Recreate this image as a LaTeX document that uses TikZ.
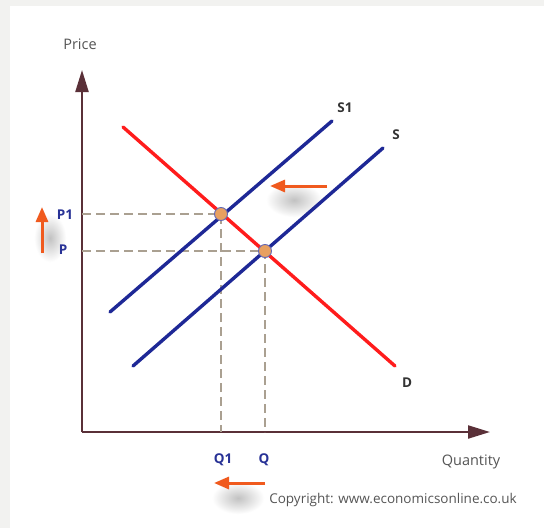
\documentclass[tikz,border=0pt]{standalone}
\usepackage{fontspec}
\setmainfont{Open Sans}
\usetikzlibrary{arrows.meta}

\definecolor{bggray}{RGB}{242,242,240}
\definecolor{axiscol}{RGB}{90,48,56}
\definecolor{demandred}{RGB}{255,28,28}
\definecolor{supplyblue}{RGB}{30,40,150}
\definecolor{guidecol}{RGB}{170,160,145}
\definecolor{dotfill}{RGB}{232,160,96}
\definecolor{shiftorange}{RGB}{240,90,30}
\definecolor{labelblue}{RGB}{40,50,150}
\definecolor{textgray}{RGB}{85,85,85}

\tikzset{
  axis/.style={axiscol, line width=2.2pt, -{Triangle[length=22pt,width=13pt]}},
  curve/.style={line width=3.4pt, line cap=round},
  guide/.style={guidecol, line width=1.3pt, dash pattern=on 9pt off 5pt},
  eqdot/.style={circle, fill=dotfill, draw=supplyblue!70, line width=0.9pt, minimum size=13pt, inner sep=0pt},
  shiftarrow/.style={shiftorange, line width=3pt, -{Triangle[length=15pt,width=12pt]}},
  blur/.style={inner color=black!24, outer color=white},
  axislabel/.style={textgray, font=\fontsize{14.5}{16}\selectfont},
  curvelabel/.style={black!80, font=\bfseries\fontsize{13.5}{15}\selectfont},
  eqlabel/.style={labelblue, font=\bfseries\fontsize{13.5}{15}\selectfont}
}

\begin{document}
\begin{tikzpicture}[x=1pt, y=-1pt, every node/.style={inner sep=0pt}]
  \fill[bggray] (0,0) rectangle (544,528);
  \fill[white] (10,6) rectangle (544,528);
  \useasboundingbox (0,0) rectangle (544,528);

  % soft shadows under the shift arrows
  \shade[blur] (294,200) ellipse (28pt and 17pt);
  \shade[blur] (50,238) ellipse (16pt and 24pt);
  \shade[blur] (238,498) ellipse (26pt and 16pt);

  % axes
  \coordinate (O) at (82,432);
  \coordinate (ytop) at (82,70);
  \coordinate (xend) at (490,432);
  \draw[axis] (O) -- (ytop);
  \draw[axis] (O) -- (xend);
  \node[axislabel] (price) at (80,44) {Price};
  \node[axislabel] (quantity) at (471,462) {Quantity};

  % equilibrium points
  \coordinate (eP1) at (221,214);
  \coordinate (eP) at (265,251);
  \draw[guide] (O |- eP1) -- (eP1) -- (eP1 |- O);
  \draw[guide] (O |- eP) -- (eP) -- (eP |- O);

  % demand and supply
  \coordinate (d1) at (123,127);  \coordinate (d2) at (395,366);
  \coordinate (s1a) at (110,312); \coordinate (s1b) at (332,121);
  \coordinate (sa) at (133,366);  \coordinate (sb) at (383,148);
  \draw[curve, demandred] (d1) -- (d2);
  \draw[curve, supplyblue] (s1a) -- (s1b);
  \draw[curve, supplyblue] (sa) -- (sb);
  \node[curvelabel] (lblS1) at (345,108) {S1};
  \node[curvelabel] (lblS) at (396,135) {S};
  \node[curvelabel] (lblD) at (407,383) {D};

  \node[eqdot] (dotP1) at (eP1) {};
  \node[eqdot] (dotP) at (eP) {};

  \node[eqlabel] (lblP1) at (65,215) {P1};
  \node[eqlabel] (lblP) at (63,250) {P};
  \node[eqlabel] (lblQ1) at (223,460) {Q1};
  \node[eqlabel] (lblQ) at (264,460) {Q};

  % shift arrows
  \coordinate (topR) at (327,186); \coordinate (topL) at (270,186);
  \coordinate (upB) at (42,253);   \coordinate (upT) at (42,207);
  \coordinate (botR) at (265,483); \coordinate (botL) at (214,483);
  \draw[shiftarrow] (topR) -- (topL);
  \draw[shiftarrow] (upB) -- (upT);
  \draw[shiftarrow] (botR) -- (botL);

  \node[textgray, font=\fontsize{13.5}{15}\selectfont] (copyright) at (393,500) {Copyright: www.economicsonline.co.uk};
\end{tikzpicture}
\end{document}
